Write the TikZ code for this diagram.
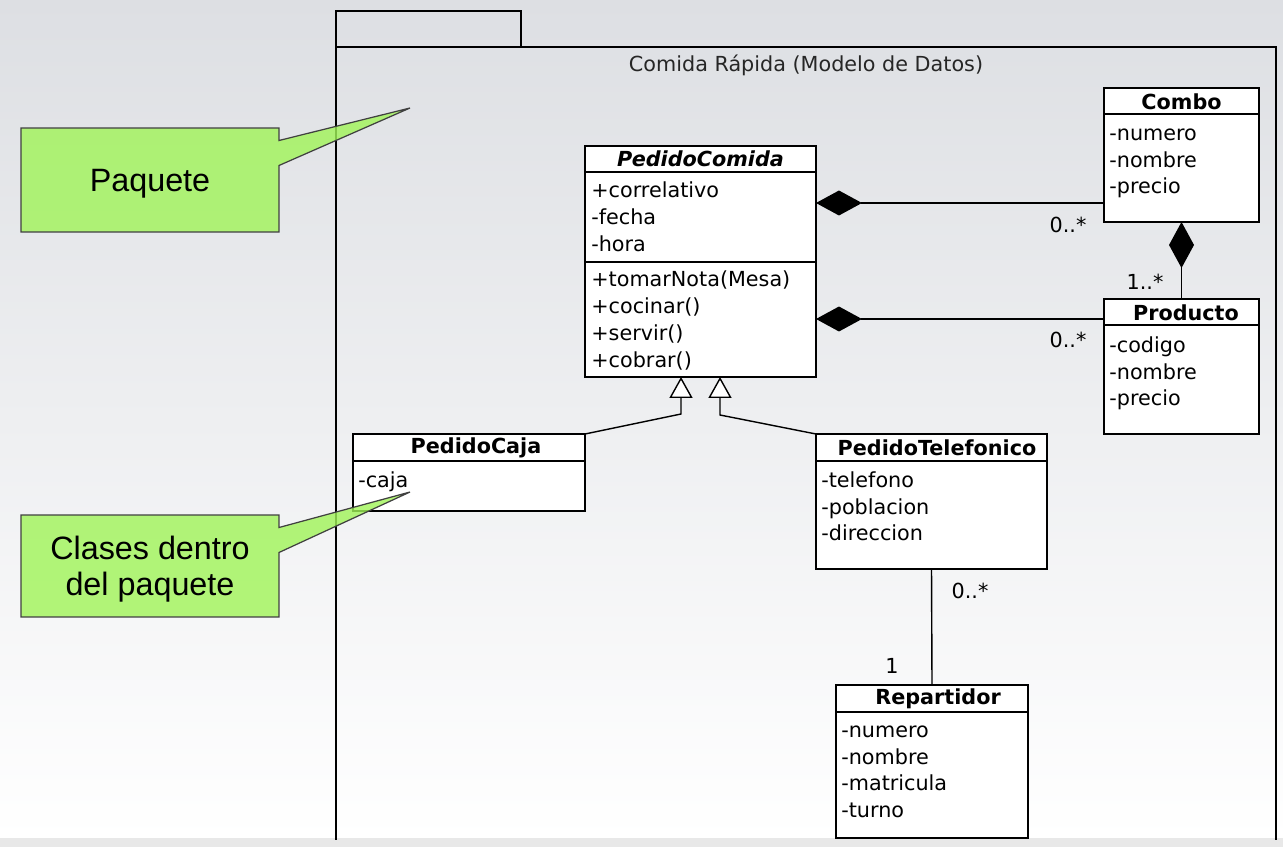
\documentclass[tikz,border=0pt]{standalone}
\usepackage{fontspec}
\setmainfont{DejaVu Sans}
\newfontfamily\notefont{Liberation Sans}
\usetikzlibrary{arrows.meta,shapes.callouts}
\definecolor{bgtop}{RGB}{221,223,227}
\definecolor{bandgray}{RGB}{232,232,232}
\definecolor{notegreen}{RGB}{160,244,88}
\newcommand{\umlsize}{\fontsize{11.8}{14}\selectfont}

\begin{document}
\begin{tikzpicture}[
    x=0.02cm, y=-0.02cm,
    classbox/.style={rectangle, draw, fill=white, line width=1pt, inner sep=0pt, outer sep=0pt},
    classname/.style={font=\umlsize\bfseries, inner sep=0pt},
    attr/.style={anchor=west, font=\umlsize, inner sep=0pt, text height=1.6ex, text depth=0.45ex},
    mult/.style={font=\umlsize, inner sep=0pt},
    note/.style={rectangle callout, draw=black!75, fill=notegreen, fill opacity=0.8, text opacity=1, line width=0.7pt, font=\notefont\fontsize{18.4}{20.6}\selectfont, align=center, minimum width=5.16cm, inner sep=0pt, text depth=0pt, callout pointer width=0.5cm},
    comp/.style={line width=0.8pt, {Diamond[length=0.92cm, width=0.5cm]}-},
    gen/.style={line width=0.8pt, -{Triangle[open, fill=white, length=0.42cm, width=0.46cm]}}
]
\useasboundingbox (0,0) rectangle (1283,847);

% Background
\shade[top color=bgtop, bottom color=white] (0,0) rectangle (1283,840);
\fill[bandgray] (0,838) rectangle (1283,847);

% Package frame
\draw[line width=1pt] (336,11) rectangle (521,47);
\draw[line width=1pt] (336,47) -- (336,840) (336,47) -- (1276,47) -- (1276,840);
\node[font=\umlsize, text=black!85] (pkgname) at (806,65) {Comida Rápida (Modelo de Datos)};

% PedidoComida
\node[classbox, minimum width=4.62cm, minimum height=4.62cm] (pedido) at (700.5,261.5) {};
\node[classname, font=\umlsize\bfseries\itshape] at (700.5,159) {PedidoComida};
\draw[line width=1pt] (585,172) -- (816,172) (585,262) -- (816,262);
\foreach \t [count=\i from 0] in {+correlativo,-fecha,-hora}
  \node[attr] at (591,192+27*\i) {\t};
\foreach \t [count=\i from 0] in {+tomarNota(Mesa),+cocinar(),+servir(),+cobrar()}
  \node[attr] at (591,281+27*\i) {\t};

% Combo
\node[classbox, minimum width=3.1cm, minimum height=2.68cm] (combo) at (1181.5,155) {};
\node[classname] at (1181.5,102) {Combo};
\draw[line width=1pt] (1104,114) -- (1259,114);
\foreach \t [count=\i from 0] in {-numero,-nombre,-precio}
  \node[attr] at (1109,135+26.5*\i) {\t};

% Producto
\node[classbox, minimum width=3.1cm, minimum height=2.7cm] (producto) at (1181.5,366.5) {};
\node[classname] at (1186,313) {Producto};
\draw[line width=1pt] (1104,325) -- (1259,325);
\foreach \t [count=\i from 0] in {-codigo,-nombre,-precio}
  \node[attr] at (1109,347+26.5*\i) {\t};

% PedidoCaja
\node[classbox, minimum width=4.64cm, minimum height=1.54cm] (caja) at (469,472.5) {};
\node[classname] at (476,448) {PedidoCaja};
\draw[line width=1pt] (353,461) -- (585,461);
\node[attr] at (358,482) {-caja};

% PedidoTelefonico
\node[classbox, minimum width=4.62cm, minimum height=2.7cm] (telefonico) at (931.5,501.5) {};
\node[classname] at (937,448) {PedidoTelefonico};
\draw[line width=1pt] (816,461) -- (1047,461);
\foreach \t [count=\i from 0] in {-telefono,-poblacion,-direccion}
  \node[attr] at (821,482+26.5*\i) {\t};

% Repartidor
\node[classbox, minimum width=3.84cm, minimum height=3.06cm] (repartidor) at (932,761.5) {};
\node[classname] at (938,699) {Repartidor};
\draw[line width=1pt] (836,712) -- (1028,712);
\foreach \t [count=\i from 0] in {-numero,-nombre,-matricula,-turno}
  \node[attr] at (841,732+26.7*\i) {\t};

% Connectors
\coordinate (k1) at (1104,203);
\coordinate (k2) at (1104,319);
\draw[comp] (pedido.east |- k1) -- (k1);
\draw[comp] (pedido.east |- k2) -- (k2);
\draw[comp] (combo.south) -- (producto.north);
\draw[line width=0.8pt] (telefonico.south) -- (repartidor.north);

\coordinate (g1) at (681,414);
\coordinate (g2) at (720,415);
\draw[gen] (caja.north east) -- (g1) -- (g1 |- pedido.south);
\draw[gen] (telefonico.north west) -- (g2) -- (g2 |- pedido.south);

% Multiplicities
\node[mult] (m1) at (1068,225) {0..*};
\node[mult] (m2) at (1068,340) {0..*};
\node[mult] (m3) at (1145,282) {1..*};
\node[mult] (m4) at (970,591) {0..*};
\node[mult] (m5) at (892,666) {1};

% Notes
\node[note, minimum height=2.08cm, callout absolute pointer={(410,108)}] (notepkg) at (150,180) {Paquete};
\node[note, minimum height=2.04cm, callout absolute pointer={(410,492)}] (noteclass) at (150,566) {Clases dentro\\del paquete};

\end{tikzpicture}
\end{document}
